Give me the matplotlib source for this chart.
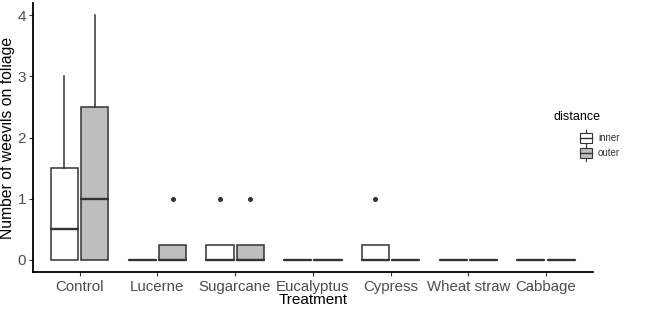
import matplotlib.pyplot as plt
from matplotlib.patches import Rectangle

plt.rcParams['font.family'] = ['Liberation Sans', 'DejaVu Sans']

# data (five-number summaries per box)
treatments = ['Control', 'Lucerne', 'Sugarcane', 'Eucalyptus', 'Cypress',
              'Wheat straw', 'Cabbage']
# inner distance
inner_low = [0, 0, 0, 0, 0, 0, 0]
inner_q1 = [0, 0, 0, 0, 0, 0, 0]
inner_med = [0.5, 0, 0, 0, 0, 0, 0]
inner_q3 = [1.5, 0, 0.25, 0, 0.25, 0, 0]
inner_high = [3, 0, 0.25, 0, 0.25, 0, 0]
inner_out = [[], [], [1], [], [1], [], []]
# outer distance
outer_low = [0, 0, 0, 0, 0, 0, 0]
outer_q1 = [0, 0, 0, 0, 0, 0, 0]
outer_med = [1, 0, 0, 0, 0, 0, 0]
outer_q3 = [2.5, 0.25, 0.25, 0, 0, 0, 0]
outer_high = [4, 0.25, 0.25, 0, 0, 0, 0]
outer_out = [[], [1], [1], [], [], [], []]

line_col = '#333333'
grey_fill = '#BEBEBE'


def make_stats(low, q1, med, q3, high, out):
    return [dict(whislo=a, q1=b, med=c, q3=d, whishi=e, fliers=f)
            for a, b, c, d, e, f in zip(low, q1, med, q3, high, out)]


fig = plt.figure(figsize=(6.6, 3.11), dpi=100)
ax = fig.add_axes([0.05, 0.125, 0.848, 0.865])

pos = list(range(1, len(treatments) + 1))
groups = [
    (make_stats(inner_low, inner_q1, inner_med, inner_q3, inner_high, inner_out), -0.195, 'white'),
    (make_stats(outer_low, outer_q1, outer_med, outer_q3, outer_high, outer_out), 0.195, grey_fill),
]
for stats, off, fc in groups:
    ax.bxp(stats, positions=[p + off for p in pos], widths=0.35,
           patch_artist=True, showcaps=False,
           boxprops=dict(facecolor=fc, edgecolor=line_col, linewidth=1.1),
           whiskerprops=dict(color=line_col, linewidth=1.1),
           medianprops=dict(color=line_col, linewidth=1.7, solid_capstyle='round'),
           flierprops=dict(marker='o', markersize=2.6, markerfacecolor=line_col,
                           markeredgecolor=line_col))

ax.set_xlim(0.4, 7.6)
ax.set_ylim(-0.2, 4.2)
ax.set_xticks(pos)
ax.set_xticklabels(treatments)
ax.set_yticks([0, 1, 2, 3, 4])
ax.tick_params(axis='both', colors='#333333', labelcolor='#4D4D4D',
               length=3, width=0.8, pad=3)
ax.tick_params(axis='x', labelsize=10.8)
ax.tick_params(axis='y', labelsize=11, pad=2)
ax.set_xlabel('Treatment', fontsize=11, color='black', labelpad=-1)
ax.set_ylabel('Number of weevils on foliage', fontsize=11.3, color='black')
ax.yaxis.set_label_coords(-0.033, 0.5)
for s in ['top', 'right']:
    ax.spines[s].set_visible(False)
for s in ['left', 'bottom']:
    ax.spines[s].set_linewidth(1.3)
    ax.spines[s].set_color('black')

# legend drawn by hand like the ggplot keys
fig.text(0.838, 0.623, 'distance', fontsize=9, color='black', va='center')
for yk, fc, lab in [(0.557, 'white', 'inner'), (0.508, grey_fill, 'outer')]:
    kx = 0.879
    fig.patches.append(Rectangle((kx, yk - 0.016), 0.018, 0.032, facecolor=fc,
                                 edgecolor=line_col, linewidth=0.8,
                                 transform=fig.transFigure, figure=fig))
    fig.add_artist(plt.Line2D([kx, kx + 0.018], [yk, yk], color=line_col,
                              linewidth=1.0, transform=fig.transFigure))
    fig.add_artist(plt.Line2D([kx + 0.009] * 2, [yk + 0.016, yk + 0.026],
                              color=line_col, linewidth=0.8, transform=fig.transFigure))
    fig.add_artist(plt.Line2D([kx + 0.009] * 2, [yk - 0.016, yk - 0.026],
                              color=line_col, linewidth=0.8, transform=fig.transFigure))
    fig.text(0.906, yk, lab, fontsize=7, color='#333333', va='center')

fig.savefig('out.png', dpi=100, facecolor='white')
